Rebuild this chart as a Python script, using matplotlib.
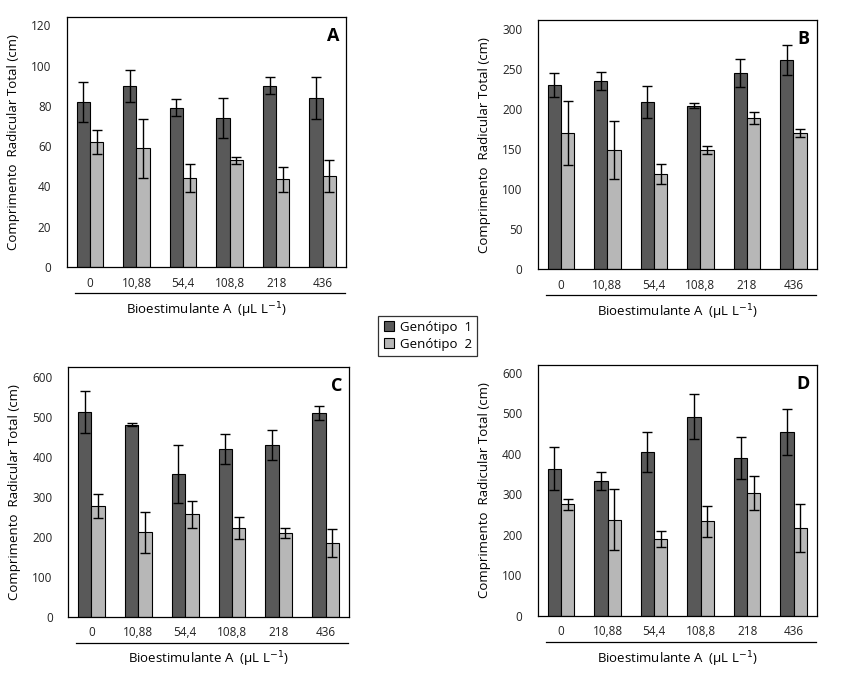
import numpy as np
import matplotlib
matplotlib.use('Agg')
import matplotlib.pyplot as plt
from matplotlib.patches import Patch

plt.rcParams['font.family'] = ['Open Sans', 'DejaVu Sans']

doses = ['0', '10,88', '54,4', '108,8', '218', '436']

# panel A
a_g1 = [82, 90, 79, 74, 90, 84]
a_g1_err = [10, 8, 4.2, 9.8, 4.2, 10.6]
a_g2 = [62, 59, 44, 53, 43.5, 45]
a_g2_err = [6, 14.7, 7, 1.8, 6.2, 8]

# panel B
b_g1 = [230, 235, 209, 204, 245, 261]
b_g1_err = [14.6, 11.2, 20, 3, 17.5, 18.3]
b_g2 = [170, 149, 119, 149, 189, 170]
b_g2_err = [40, 35.8, 12, 5, 7.3, 5.2]

# panel C
c_g1 = [511, 480, 356, 419, 429, 509]
c_g1_err = [52.5, 4.5, 72.5, 38.3, 37.5, 17.5]
c_g2 = [276, 211, 256, 221, 209, 184]
c_g2_err = [30, 50.8, 33.7, 28, 11.7, 34]

# panel D
d_g1 = [363, 333, 405, 492, 390, 454]
d_g1_err = [53, 21.5, 50, 55.7, 51.5, 57]
d_g2 = [275, 237, 190, 234, 304, 216]
d_g2_err = [12.4, 75.5, 19.8, 38.4, 42, 59.4]

panels = [
    ('A', a_g1, a_g1_err, a_g2, a_g2_err, np.arange(0, 121, 20), 124),
    ('B', b_g1, b_g1_err, b_g2, b_g2_err, np.arange(0, 301, 50), 311),
    ('C', c_g1, c_g1_err, c_g2, c_g2_err, np.arange(0, 601, 100), 623),
    ('D', d_g1, d_g1_err, d_g2, d_g2_err, np.arange(0, 601, 100), 620),
]

rects = [
    [0.0787, 0.6039, 0.3298, 0.3704],
    [0.6348, 0.6004, 0.3294, 0.3699],
    [0.0803, 0.0850, 0.3318, 0.3700],
    [0.6348, 0.0865, 0.3298, 0.3720],
]

dark = '#595959'
light = '#b7b7b7'
w = 0.286

fig = plt.figure(figsize=(8.47, 6.74), dpi=100)

for (lab, g1, e1, g2, e2, yt, ytop), r in zip(panels, rects):
    ax = fig.add_axes(r)
    x = np.arange(len(doses))
    ax.bar(x - w/2, g1, w, color=dark, edgecolor='black', linewidth=0.8,
           yerr=e1, error_kw=dict(ecolor='black', elinewidth=1, capsize=3.5, capthick=1))
    ax.bar(x + w/2, g2, w, color=light, edgecolor='black', linewidth=0.8,
           yerr=e2, error_kw=dict(ecolor='black', elinewidth=1, capsize=3.5, capthick=1))
    ax.set_xlim(-0.5, 5.5)
    ax.set_ylim(0, ytop)
    ax.set_yticks(yt)
    ax.set_xticks(x)
    ax.set_xticklabels(doses)
    ax.tick_params(axis='both', length=0, labelsize=8.5, colors='#222222')
    ax.tick_params(axis='x', pad=7)
    ax.tick_params(axis='y', pad=11)
    for s in ax.spines.values():
        s.set_linewidth(0.9)
    ax.text(0.975, 0.925, lab, transform=ax.transAxes, ha='right', va='center',
            fontsize=13, fontweight='bold')
    ax.plot([0.03, 0.996], [-0.104, -0.104], transform=ax.transAxes,
            color='black', linewidth=0.9, clip_on=False)
    ax.text(0.5, -0.172, r'Bioestimulante A  (µL L$^{-1}$)', transform=ax.transAxes,
            ha='center', va='center', fontsize=9.5)
    ax.text(-0.19, 0.5, 'Comprimento  Radicular Total (cm)', transform=ax.transAxes,
            ha='center', va='center', rotation=90, fontsize=9.5)

handles = [Patch(facecolor=dark, edgecolor='black', linewidth=0.8, label='Genótipo  1'),
           Patch(facecolor=light, edgecolor='black', linewidth=0.8, label='Genótipo  2')]
leg = fig.legend(handles=handles, loc='upper left', bbox_to_anchor=(0.439, 0.5415),
                 fancybox=False, edgecolor='black', fontsize=9.5, handlelength=0.8,
                 handleheight=0.8, handletextpad=0.4, borderpad=0.4, labelspacing=0.3)
leg.get_frame().set_linewidth(0.9)

fig.savefig('out.png', dpi=100)
